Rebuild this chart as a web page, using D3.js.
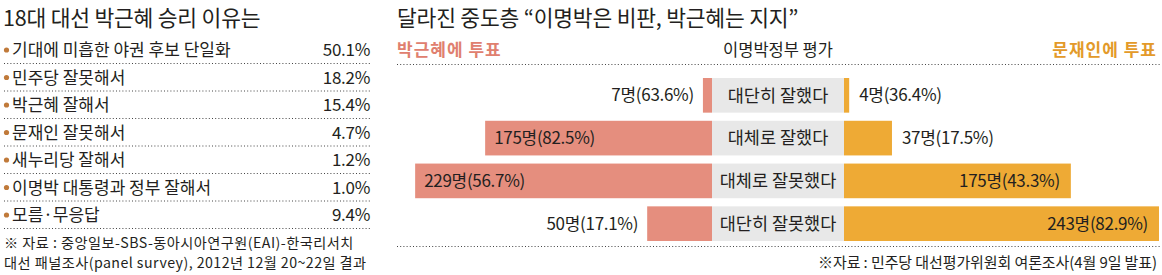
<!DOCTYPE html>
<html><head><meta charset="utf-8">
<script src="https://cdn.jsdelivr.net/npm/d3@7"></script>
<style>
body{margin:0;background:#fff;}
svg text{font-family:"Noto Sans CJK KR","Noto Sans",sans-serif;fill:#231f20;}
</style></head>
<body><svg id="c" width="1162" height="275"></svg>
<script>
// Left panel data
const reasons = ["기대에 미흡한 야권 후보 단일화","민주당 잘못해서","박근혜 잘해서","문재인 잘못해서","새누리당 잘해서","이명박 대통령과 정부 잘해서","모름·무응답"];
const reasonPct = [50.1,18.2,15.4,4.7,1.2,1.0,9.4];
// Right panel data
const evalCats = ["대단히 잘했다","대체로 잘했다","대체로 잘못했다","대단히 잘못했다"];
const parkCount = [7,175,229,50];
const parkPct = [63.6,82.5,56.7,17.1];
const moonCount = [4,37,175,243];
const moonPct = [36.4,17.5,43.3,82.9];

const svg = d3.select("#c");
const fmt = v => v.toFixed(1);

// ---------- Left panel ----------
svg.append("text").attr("x",3).attr("y",26).attr("font-size",21.5).attr("letter-spacing",-0.2).text("18대 대선 박근혜 승리 이유는");

const yL = d3.scalePoint().domain(reasons).range([50,215]);
const gL = svg.append("g");
reasons.forEach((r,i)=>{
  const y = yL(r);
  gL.append("circle").attr("cx",6.5).attr("cy",y).attr("r",2.6).attr("fill","#c07a3a");
  gL.append("text").attr("x",12).attr("y",y).attr("dy","0.36em").attr("font-size",17).attr("letter-spacing",0).text(r);
  gL.append("text").attr("x",370).attr("y",y).attr("dy","0.36em").attr("font-size",17).attr("letter-spacing",-0.3).attr("text-anchor","end").text(reasonPct[i].toFixed(1)+"%");
  gL.append("line").attr("x1",4).attr("x2",370).attr("y1",y+13.5).attr("y2",y+13.5)
    .attr("stroke","#444").attr("stroke-width",1).attr("stroke-dasharray","1,2.2");
});
svg.append("text").attr("x",4).attr("y",242.5).attr("dy","0.36em").attr("font-size",14.2).attr("letter-spacing",0.45).attr("fill","#333").text("※ 자료 : 중앙일보-SBS-동아시아연구원(EAI)-한국리서치");
svg.append("text").attr("x",4).attr("y",262.5).attr("dy","0.36em").attr("font-size",14.2).attr("letter-spacing",0.45).attr("fill","#333").text("대선 패널조사(panel survey), 2012년 12월 20~22일 결과");

// ---------- Right panel ----------
svg.append("text").attr("x",397).attr("y",26).attr("font-size",21.5).attr("letter-spacing",-0.2).text("달라진 중도층 “이명박은 비판, 박근혜는 지지”");
svg.append("text").attr("x",397).attr("y",50).attr("dy","0.36em").attr("font-size",17).attr("font-weight","bold").style("fill","#e0806f").attr("letter-spacing",1).text("박근혜에 투표");
svg.append("text").attr("x",778).attr("y",50).attr("dy","0.36em").attr("font-size",16.5).attr("text-anchor","middle").text("이명박정부 평가");
svg.append("text").attr("x",1157).attr("y",50).attr("dy","0.36em").attr("font-size",17).attr("font-weight","bold").style("fill","#e39a2a").attr("text-anchor","end").attr("letter-spacing",1).text("문재인에 투표");
svg.append("line").attr("x1",397).attr("x2",1160).attr("y1",64.5).attr("y2",64.5).attr("stroke","#444").attr("stroke-dasharray","1,2.2");
svg.append("line").attr("x1",397).attr("x2",1160).attr("y1",246.5).attr("y2",246.5).attr("stroke","#444").attr("stroke-dasharray","1,2.2");

const cx0 = 712, cx1 = 844;
const w = d3.scaleLinear().domain([0,243]).range([0,315]);
const yR = d3.scaleBand().domain(evalCats).range([78,241]).paddingInner(0.19).paddingOuter(0);
const bh = yR.bandwidth();

evalCats.forEach((c,i)=>{
  const y = yR(c), ym = y + bh/2;
  svg.append("rect").attr("x",cx0).attr("y",y).attr("width",cx1-cx0).attr("height",bh).attr("fill","#e8e8e8");
  svg.append("text").attr("x",(cx0+cx1)/2).attr("y",ym).attr("dy","0.36em").attr("text-anchor","middle").attr("font-size",17.5).text(c);
  // left
  const lw = w(parkCount[i]);
  svg.append("rect").attr("x",cx0-lw).attr("y",y).attr("width",lw).attr("height",bh).attr("fill","#e58e7e");
  const lt = parkCount[i]+"명("+fmt(parkPct[i])+"%)";
  const inside = lw>150;
  svg.append("text").attr("x", inside ? cx0-lw+9 : cx0-lw-9).attr("y",ym).attr("dy","0.36em")
    .attr("text-anchor", inside ? "start":"end").attr("font-size",17).attr("letter-spacing",-0.3).text(lt);
  // right
  const rw = w(moonCount[i]);
  svg.append("rect").attr("x",cx1).attr("y",y).attr("width",rw).attr("height",bh).attr("fill","#eeaa35");
  const rt = moonCount[i]+"명("+fmt(moonPct[i])+"%)";
  const rin = rw>150;
  svg.append("text").attr("x", rin ? cx1+rw-11 : cx1+rw+10).attr("y",ym).attr("dy","0.36em")
    .attr("text-anchor", rin ? "end":"start").attr("font-size",17).attr("letter-spacing",-0.3).text(rt);
});
svg.append("text").attr("x",1157).attr("y",263).attr("dy","0.36em").attr("text-anchor","end").attr("font-size",15).attr("letter-spacing",-0.1).attr("fill","#333").text("※자료 :  민주당 대선평가위원회 여론조사(4월 9일 발표)");
</script></body></html>
